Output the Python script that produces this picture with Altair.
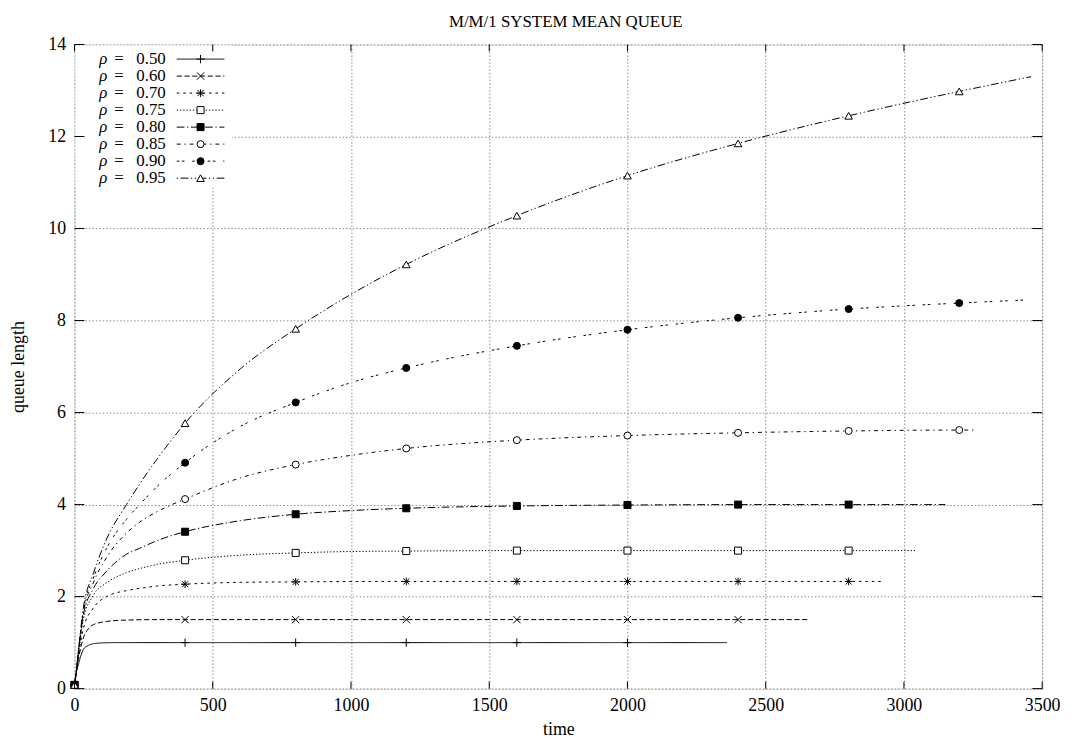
import altair as alt
import pandas as pd

FONT = "Liberation Serif"

title_text = "M/M/1 SYSTEM MEAN QUEUE"
rhos = ["0.50", "0.60", "0.70", "0.75", "0.80", "0.85", "0.90", "0.95"]

t_050 = [0, 5, 14, 25, 32, 50, 68, 100, 150, 400, 800, 1200, 1600, 2000, 2360]
q_050 = [0.08, 0.3, 0.52, 0.75, 0.85, 0.94, 0.975, 0.993, 1.0, 1.0, 1.0, 1.0, 1.0, 1.0, 1.0]

t_060 = [0, 5, 14, 32, 50, 68, 116, 188, 300, 400, 800, 1200, 1600, 2000, 2400, 2660]
q_060 = [0.08, 0.27, 0.63, 1.1, 1.3, 1.39, 1.46, 1.49, 1.5, 1.5, 1.5, 1.5, 1.5, 1.5, 1.5, 1.5]

t_070 = [0, 5, 14, 32, 68, 116, 188, 236, 300, 400, 600, 800, 1200, 1600, 2000, 2400, 2800, 2920]
q_070 = [0.08, 0.28, 0.7, 1.3, 1.75, 2.0, 2.13, 2.18, 2.23, 2.27, 2.31, 2.32, 2.33, 2.33, 2.33, 2.33, 2.33, 2.33]

t_075 = [0, 5, 14, 32, 68, 116, 188, 236, 300, 400, 600, 800, 1000, 1200, 1600, 2000, 2400, 2800, 3040]
q_075 = [0.08, 0.3, 0.75, 1.5, 2.03, 2.3, 2.52, 2.61, 2.7, 2.79, 2.9, 2.95, 2.98, 2.99, 3.0, 3.0, 3.0, 3.0, 3.0]

t_080 = [0, 5, 14, 32, 68, 116, 188, 236, 300, 400, 600, 800, 1000, 1200, 1600, 2000, 2400, 2800, 3150]
q_080 = [0.08, 0.3, 0.77, 1.6, 2.17, 2.55, 2.92, 3.05, 3.22, 3.41, 3.65, 3.79, 3.87, 3.92, 3.97, 3.99, 4.0, 4.0, 4.0]

t_085 = [0, 5, 14, 32, 68, 116, 188, 236, 300, 400, 600, 800, 1000, 1200, 1600, 2000, 2400, 2800, 3200, 3260]
q_085 = [0.08, 0.3, 0.78, 1.65, 2.3, 2.85, 3.38, 3.62, 3.85, 4.12, 4.58, 4.87, 5.07, 5.22, 5.4, 5.5, 5.56, 5.6, 5.62, 5.62]

t_090 = [0, 5, 14, 32, 68, 116, 188, 236, 300, 400, 600, 800, 1000, 1200, 1600, 2000, 2400, 2800, 3200, 3450]
q_090 = [0.08, 0.3, 0.8, 1.7, 2.4, 3.05, 3.68, 4.0, 4.4, 4.91, 5.7, 6.22, 6.65, 6.97, 7.45, 7.8, 8.06, 8.25, 8.38, 8.45]

t_095 = [0, 5, 14, 32, 68, 116, 188, 236, 300, 400, 600, 800, 1000, 1200, 1600, 2000, 2400, 2800, 3200, 3460]
q_095 = [0.08, 0.3, 0.82, 1.75, 2.5, 3.25, 4.0, 4.45, 5.0, 5.77, 6.95, 7.82, 8.57, 9.22, 10.28, 11.15, 11.85, 12.45, 12.98, 13.3]

series_t = [t_050, t_060, t_070, t_075, t_080, t_085, t_090, t_095]
series_q = [q_050, q_060, q_070, q_075, q_080, q_085, q_090, q_095]

x_ticks = [0, 500, 1000, 1500, 2000, 2500, 3000, 3500]
y_ticks = [0, 2, 4, 6, 8, 10, 12, 14]

marker_every = 400

# styles (gnuplot-like)
k = 1.3
dashes = [[1, 0], [4 * k, 2 * k], [2 * k, 3 * k], [1 * k, 1.5 * k], [6 * k, 2 * k, 1 * k, 2 * k],
          [3 * k, 3 * k, 1 * k, 3 * k], [2 * k, 2 * k, 2 * k, 6 * k], [1 * k, 2 * k, 6 * k, 2 * k, 1 * k, 2 * k]]
shapes = ["M-1,0L1,0M0,-1L0,1", "M-1,-1L1,1M-1,1L1,-1",
          "M-1,0L1,0M0,-1L0,1M-0.8,-0.8L0.8,0.8M-0.8,0.8L0.8,-0.8",
          "square", "square", "circle", "circle", "triangle-up"]
fills = ["none", "none", "none", "white", "black", "white", "black", "white"]
sizes = [70, 55, 60, 50, 50, 50, 50, 60]

W, H = 975, 649

xscale = alt.Scale(domain=[0, 3500], nice=False, zero=False)
yscale = alt.Scale(domain=[0, 14], nice=False, zero=False)

common_axis = dict(grid=True, ticks=False, domain=False, format="d",
                   labelFont=FONT, labelFontSize=18, labelColor="black",
                   titleFont=FONT, titleFontSize=18, titleFontWeight="normal", titleColor="black",
                   gridColor="#8a8a8a", gridDash=[1.5, 2], gridWidth=1, gridOpacity=1,
                   labelFlush=False)
xaxis = alt.Axis(values=x_ticks, title="time", labelPadding=8, titlePadding=6, **common_axis)
yaxis = alt.Axis(values=y_ticks, title="queue length", labelPadding=9, titlePadding=20, **common_axis)

X = alt.X("t:Q", scale=xscale, axis=xaxis)
Y = alt.Y("q:Q", scale=yscale, axis=yaxis)

one = pd.DataFrame({"a": [0]})

# legend background box (covers grid)
box = alt.Chart(one).mark_rect(fill="white").encode(
    x=alt.value(1), x2=alt.value(159), y=alt.value(1), y2=alt.value(144))

# title as text above plot
title = alt.Chart(pd.DataFrame({"txt": [title_text]})).mark_text(
    font=FONT, fontSize=17, align="center", baseline="alphabetic", color="black").encode(
    text="txt:N", x=alt.value(495), y=alt.value(-18))

line_layers = []
point_layers = []
legend_layers = []
for i, r in enumerate(rhos):
    df = pd.DataFrame({"t": series_t[i], "q": series_q[i]})
    mk = df[df["t"] % marker_every == 0]
    line_layers.append(
        alt.Chart(df).mark_line(color="black", strokeWidth=1, strokeDash=dashes[i],
                                interpolate="monotone").encode(x=X, y=Y))
    point_layers.append(
        alt.Chart(mk).mark_point(shape=shapes[i], fill=fills[i], stroke="black", strokeWidth=1,
                                 size=sizes[i], opacity=1, fillOpacity=1, strokeOpacity=1,
                                 filled=fills[i] != "none").encode(x=X, y=Y))
    yy = 14.7 + 17.14 * i
    lab = pd.DataFrame({"rho": ["ρ"], "eq": ["="], "val": [r]})
    legend_layers.append(
        alt.Chart(lab).mark_text(font=FONT, fontSize=17, fontStyle="italic", align="left",
                                 baseline="middle", color="black").encode(
            text="rho:N", x=alt.value(25), y=alt.value(yy)))
    legend_layers.append(
        alt.Chart(lab).mark_text(font=FONT, fontSize=17, align="left", baseline="middle",
                                 color="black").encode(text="eq:N", x=alt.value(40), y=alt.value(yy)))
    legend_layers.append(
        alt.Chart(lab).mark_text(font=FONT, fontSize=17, align="right", baseline="middle",
                                 color="black").encode(text="val:N", x=alt.value(92), y=alt.value(yy)))
    legend_layers.append(
        alt.Chart(lab).mark_rule(color="black", strokeWidth=1, strokeDash=dashes[i]).encode(
            x=alt.value(103), x2=alt.value(151), y=alt.value(yy)))
    legend_layers.append(
        alt.Chart(lab).mark_point(shape=shapes[i], fill=fills[i], stroke="black", strokeWidth=1,
                                  size=sizes[i], opacity=1, fillOpacity=1, strokeOpacity=1,
                                  filled=fills[i] != "none").encode(x=alt.value(127), y=alt.value(yy)))

# inward tick marks on all four sides
xt = pd.DataFrame({"t": x_ticks})
yt = pd.DataFrame({"q": y_ticks})
tick_layers = [
    alt.Chart(xt).mark_rule(color="black", strokeWidth=1).encode(x=X, y=alt.value(H), y2=alt.value(H - 7)),
    alt.Chart(xt).mark_rule(color="black", strokeWidth=1).encode(x=X, y=alt.value(0), y2=alt.value(7)),
    alt.Chart(yt).mark_rule(color="black", strokeWidth=1).encode(y=Y, x=alt.value(0), x2=alt.value(10)),
    alt.Chart(yt).mark_rule(color="black", strokeWidth=1).encode(y=Y, x=alt.value(W), x2=alt.value(W - 10)),
]

chart = alt.layer(*line_layers, box, *point_layers, *legend_layers, *tick_layers, title).properties(
    width=W, height=H,
    autosize=alt.AutoSizeParams(type="none"),
    padding={"left": 67, "top": 34, "right": 25, "bottom": 50},
).configure_view(stroke="black", strokeWidth=1.3).configure(background="white")

chart.save("out.html", embed_options={"renderer": "svg", "actions": False})
